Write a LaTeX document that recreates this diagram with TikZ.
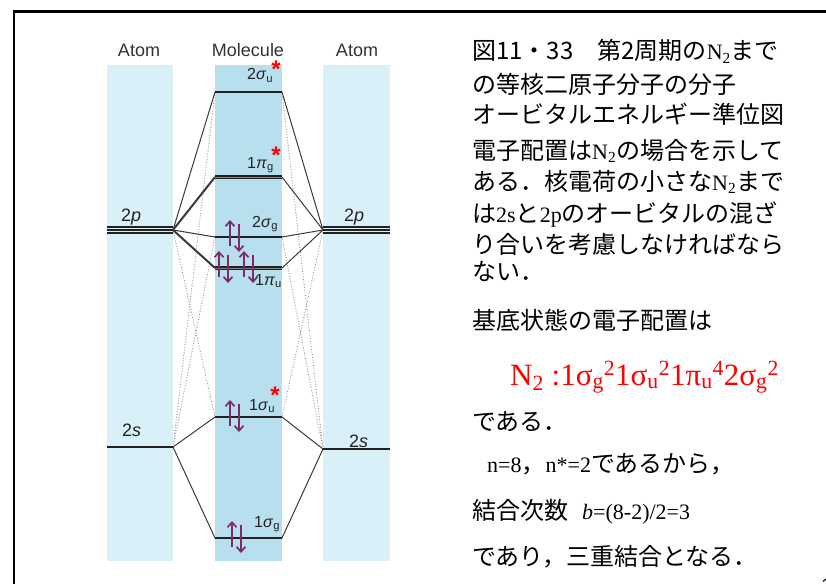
\documentclass[tikz,border=0pt]{standalone}
\usepackage{fontspec}
\setmainfont{Liberation Serif}
\setsansfont{Liberation Sans}
\newfontfamily\jpfont{Noto Sans CJK JP}
\usetikzlibrary{arrows.meta}
\definecolor{MOAtom}{HTML}{DAF0F8}
\definecolor{MOMol}{HTML}{B8DFEE}
\definecolor{MOInk}{HTML}{222222}
\definecolor{MOHead}{HTML}{333333}
\definecolor{MOLine}{HTML}{3A3A3A}
\definecolor{MOGray}{HTML}{8A8A8A}
\definecolor{MOSpin}{HTML}{7D2A6A}
\definecolor{MORed}{HTML}{FF0000}
\newcommand\tms[1]{{\rmfamily\fontsize{22}{26}\selectfont #1}}
\tikzset{
  orblevel/.style={MOInk,line width=2.2pt},
  pilevel/.style={MOInk,line width=1.5pt,double=MOInk!55,double distance=0.8pt},
  pline/.style={MOInk,line width=1.3pt},
  corr/.style={MOLine,line width=1pt},
  corrthick/.style={corr,line width=2pt},
  mix/.style={MOGray,line width=0.8pt,dash pattern=on 0.9pt off 1.8pt},
  spin/.style={MOSpin,line width=1.7pt,-{Straight Barb[length=5pt,width=9pt]}},
  colhead/.style={text=MOHead,font=\sffamily\fontsize{18}{20}\selectfont,anchor=base,inner sep=0pt},
  orb/.style={text=MOInk,font=\sffamily\fontsize{16}{18}\selectfont,anchor=base west,inner sep=0pt},
  atomorb/.style={orb,font=\sffamily\fontsize{18}{20}\selectfont},
  asterisk/.style={text=MORed,font=\sffamily\bfseries\fontsize{24}{24}\selectfont,anchor=base,inner sep=0pt},
  jline/.style={anchor=base west,inner sep=0pt,font=\jpfont\fontsize{24}{28}\selectfont},
}
\begin{document}
\begin{tikzpicture}[x=1pt,y=-1pt]
  \useasboundingbox (0,0) rectangle (826,583);
  \fill[white] (0,0) rectangle (826,583);
  % slide frame, cut by the page edge
  \draw[line width=2.6pt] (14,600) -- (14,11.5) -- (840,11.5);

  % shaded columns
  \fill[MOAtom] (107,65) rectangle (173,561);
  \fill[MOMol]  (215,65) rectangle (282,561);
  \fill[MOAtom] (323,65) rectangle (390,561);
  \node[colhead] (hatomL) at (139,57) {Atom};
  \node[colhead] (hmol)   at (248,57) {Molecule};
  \node[colhead] (hatomR) at (357,57) {Atom};

  % level end points
  \coordinate (su2L) at (215,92);  \coordinate (su2R) at (282,92);
  \coordinate (pgL)  at (215,177); \coordinate (pgR)  at (282,177);
  \coordinate (sg2L) at (215,237); \coordinate (sg2R) at (282,237);
  \coordinate (puL)  at (215,268); \coordinate (puR)  at (282,268);
  \coordinate (su1L) at (215,417); \coordinate (su1R) at (282,417);
  \coordinate (sg1L) at (215,538); \coordinate (sg1R) at (282,538);
  \coordinate (pAout) at (107,230); \coordinate (pA) at (173,230);
  \coordinate (pB) at (323,230);    \coordinate (pBout) at (390,230);
  \coordinate (sAout) at (107,447); \coordinate (sA) at (173,447);
  \coordinate (sB) at (323,449);    \coordinate (sBout) at (390,449);

  % correlation lines
  \draw[mix] (sA) -- (su2L) (sA) -- (sg2L) (pA) -- (su1L)
             (sB) -- (su2R) (sB) -- (sg2R) (pB) -- (su1R);
  \draw[corr] (pA) -- (su2L) (pA) -- (sg2L)
              (pB) -- (su2R) (pB) -- (pgR) (pB) -- (sg2R) (pB) -- (puR)
              (sA) -- (su1L) (sA) -- (sg1L) (sB) -- (su1R) (sB) -- (sg1R);
  \draw[corrthick] (pA) -- (pgL) (pA) -- (puL);

  % levels
  \foreach \a/\b in {su2L/su2R,sg2L/sg2R,su1L/su1R,sg1L/sg1R,sAout/sA,sB/sBout}{
    \draw[orblevel] (\a) -- (\b);
  }
  \draw[pilevel] (pgL) -- (pgR);
  \draw[pilevel] (puL) -- (puR);
  \foreach \d in {-3,0,3}{
    \draw[pline] ([yshift=\d pt]pAout) -- ([yshift=\d pt]pA);
    \draw[pline] ([yshift=\d pt]pB) -- ([yshift=\d pt]pBout);
  }

  % electrons
  \foreach \x/\y in {230/237,219/268,244/268,230/417,232/538}{
    \draw[spin] (\x,\y+9) -- (\x,\y-17);
    \draw[spin] (\x+9,\y-13) -- (\x+9,\y+15);
  }

  % orbital labels
  \node[orb] (lsu2) at (247,80)  {2\textit{σ}\textsubscript{u}};
  \node[orb] (lpg)  at (247,168) {1\textit{π}\textsubscript{g}};
  \node[orb] (lsg2) at (252,227) {2\textit{σ}\textsubscript{g}};
  \node[orb] (lpu)  at (255,285) {1\textit{π}\textsubscript{u}};
  \node[orb] (lsu1) at (249,410) {1\textit{σ}\textsubscript{u}};
  \node[orb] (lsg1) at (254,527) {1\textit{σ}\textsubscript{g}};
  \node[asterisk] (ssu2) at (276,78)  {*};
  \node[asterisk] (spg)  at (276,163) {*};
  \node[asterisk] (ssu1) at (275,403) {*};
  \node[atomorb] (l2pL) at (121,221) {2\textit{p}};
  \node[atomorb] (l2pR) at (344,221) {2\textit{p}};
  \node[atomorb] (l2sL) at (122,436) {2\textit{s}};
  \node[atomorb] (l2sR) at (349,447) {2\textit{s}};

  % caption text
  \node[jline] (cap1) at (472,60)  {図11・33　第2周期の\tms{N\textsubscript{2}}まで};
  \node[jline] (cap2) at (472,94)  {の等核二原子分子の分子};
  \node[jline] (cap3) at (472,124) {オービタルエネルギー準位図};
  \node[jline] (cap4) at (472,159) {電子配置は\tms{N\textsubscript{2}}の場合を示して};
  \node[jline] (cap5) at (472,190) {ある．核電荷の小さな\tms{N\textsubscript{2}}まで};
  \node[jline] (cap6) at (472,222) {は\tms{2s}と\tms{2p}のオービタルの混ざ};
  \node[jline] (cap7) at (472,253) {り合いを考慮しなければなら};
  \node[jline] (cap8) at (472,280) {ない．};
  \node[jline] (gs)   at (472,329) {基底状態の電子配置は};
  \node[anchor=base west,inner sep=0pt,text=MORed,font=\rmfamily\fontsize{31}{35}\selectfont] (conf) at (510,385)
    {N\textsubscript{2} :1σ\textsubscript{g}\textsuperscript{2}1σ\textsubscript{u}\textsuperscript{2}1π\textsubscript{u}\textsuperscript{4}2σ\textsubscript{g}\textsuperscript{2}};
  \node[jline] (desu)  at (472,430) {である．};
  \node[jline] (nval)  at (487,472) {\tms{n=8}，\tms{n*=2}であるから，};
  \node[jline] (bond)  at (472,519) {結合次数\hspace{14pt}\tms{\textit{b}=(8-2)/2=3}};
  \node[jline] (trip)  at (472,565) {であり，三重結合となる．};
  \node[anchor=base west,inner sep=0pt,font=\sffamily\fontsize{20}{22}\selectfont] (pageno) at (821,592) {1};
\end{tikzpicture}
\end{document}
